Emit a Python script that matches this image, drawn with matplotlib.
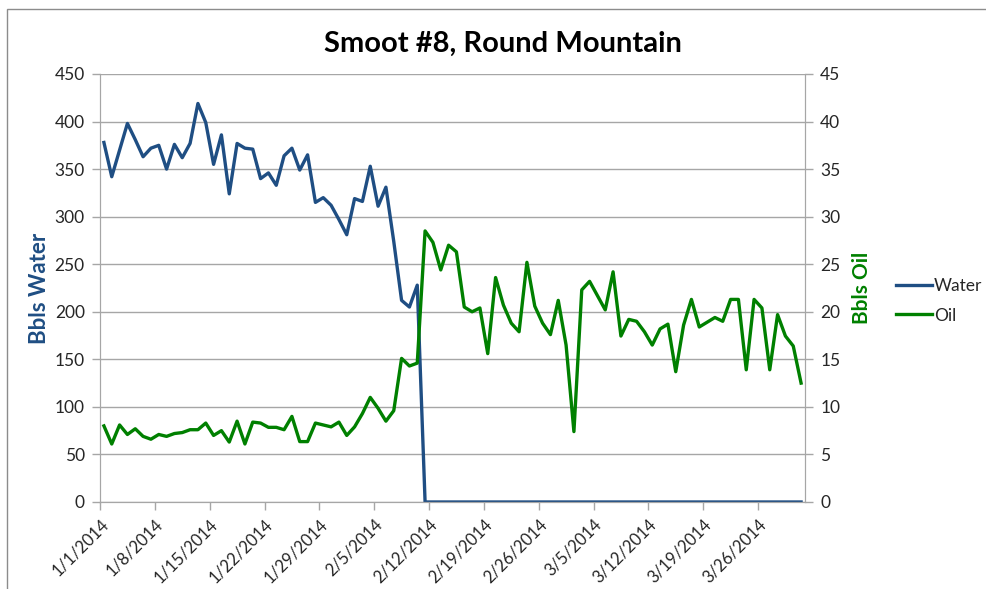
import numpy as np
import pandas as pd
import matplotlib
matplotlib.use("Agg")
import matplotlib.pyplot as plt
from matplotlib.lines import Line2D
from matplotlib.patches import Rectangle

plt.rcParams['font.family'] = ['Lato', 'DejaVu Sans']

# ---------------------------------
# DATA (daily, 1/1/2014 - 3/31/2014)
# ---------------------------------

dates = pd.date_range("2014-01-01", periods=90, freq="D")

water = [378, 342, 370, 398, 381, 363, 372, 375, 350, 376,
         362, 377, 419, 399, 355, 386, 324, 377, 372, 371,
         340, 346, 333, 364, 372, 349, 365, 315, 320, 312,
         297, 281, 319, 316, 353, 311, 331, 274, 212, 205,
         228] + [0] * 49

oil = [8.0, 6.1, 8.1, 7.1, 7.7, 6.9, 6.6, 7.1, 6.9, 7.2,
       7.3, 7.6, 7.6, 8.3, 7.0, 7.5, 6.3, 8.5, 6.1, 8.4,
       8.3, 7.85, 7.85, 7.6, 9.0, 6.35, 6.35, 8.3, 8.1, 7.9,
       8.4, 7.0, 7.9, 9.3, 11.0, 9.85, 8.5, 9.6, 15.1, 14.3,
       14.6, 28.5, 27.3, 24.4, 27.0, 26.3, 20.5, 20.0, 20.4, 15.6,
       23.6, 20.7, 18.8, 17.9, 25.2, 20.6, 18.8, 17.6, 21.2, 16.5,
       7.4, 22.3, 23.2, 21.7, 20.2, 24.2, 17.45, 19.2, 19.0, 17.9,
       16.5, 18.2, 18.7, 13.7, 18.6, 21.3, 18.4, 18.9, 19.4, 19.0,
       21.3, 21.3, 13.9, 21.3, 20.4, 13.9, 19.7, 17.45, 16.4, 12.5]

tick_dates = pd.date_range("2014-01-01", "2014-03-26", freq="7D")
tick_labels = [f"{d.month}/{d.day}/{d.year}" for d in tick_dates]

# ---------------------------------
# STYLE
# ---------------------------------

water_color = "#1F4E83"
oil_color = "#008000"
grid_color = "#A6A6A6"
text_color = "#262626"

# Excel places daily points in the middle of each day's band
xpos = dates + pd.Timedelta(hours=12)

fig = plt.figure(figsize=(9.86, 5.89), dpi=100)
ax = fig.add_axes([100 / 986, 1 - 502 / 589, 705 / 986, 428 / 589])
ax2 = ax.twinx()

ax.plot(xpos, water, color=water_color, lw=2.4, solid_joinstyle="round")
ax2.plot(xpos, oil, color=oil_color, lw=2.4, solid_joinstyle="round")

ax.set_xlim(dates[0], dates[0] + pd.Timedelta(days=90))
ax.set_ylim(0, 450)
ax2.set_ylim(0, 45)
ax.set_yticks(np.arange(0, 451, 50))
ax2.set_yticks(np.arange(0, 46, 5))

ax.set_xticks(tick_dates)
ax.set_xticklabels(tick_labels, rotation=45, ha="right", va="top",
                   rotation_mode="anchor", fontsize=12, color=text_color)
ax.tick_params(axis="x", length=6, width=1, color=grid_color, pad=4)
ax.tick_params(axis="y", length=6, width=1, color=grid_color,
               labelsize=12.5, labelcolor=text_color, pad=5)
ax2.tick_params(axis="y", length=6, width=1, color=grid_color,
                labelsize=12.5, labelcolor=text_color, pad=5)

ax.grid(axis="y", color=grid_color, lw=1)
ax.set_axisbelow(True)
for a in (ax, ax2):
    a.spines["top"].set_visible(False)
    a.spines["left"].set_color(grid_color)
    a.spines["right"].set_color(grid_color)
    a.spines["bottom"].set_color(grid_color)

ax.set_ylabel("Bbls Water", color=water_color, fontsize=16,
              fontweight="bold", labelpad=3)
ax2.set_ylabel("Bbls Oil", color=oil_color, fontsize=15,
               fontweight="bold", labelpad=8)

fig.suptitle("Smoot #8, Round Mountain", x=503 / 986, y=1 - 44 / 589,
             va="center", fontsize=21, fontweight="bold", color="black")

handles = [Line2D([], [], color=water_color, lw=2.4),
           Line2D([], [], color=oil_color, lw=2.4)]
fig.legend(handles, ["Water", "Oil"], loc="center left",
           bbox_to_anchor=(896 / 986, 1 - 301 / 589), frameon=False,
           fontsize=12.5, handlelength=2.05, handletextpad=0.15,
           labelspacing=0.75, labelcolor=text_color,
           borderpad=0, borderaxespad=0)

# chart area border (top and left edges visible in the crop)
fig.patches.append(Rectangle((7 / 986, -0.1), 1.1, 1.1 - 9 / 589,
                             transform=fig.transFigure, fill=False,
                             edgecolor="#8C8C8C", lw=1))

fig.savefig("out.png", dpi=100)
